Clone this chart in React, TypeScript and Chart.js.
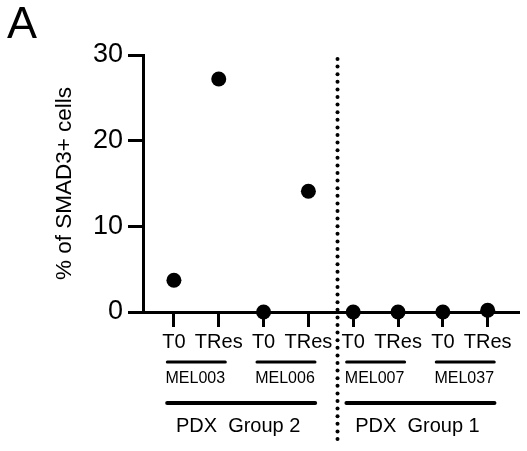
import React, { useEffect, useRef } from 'react';
import { Chart, registerables } from 'chart.js';

Chart.register(...registerables);

const FONT = '"Liberation Sans", Arial, Helvetica, sans-serif';

const tickLabels = ['T0', 'TRes', 'T0', 'TRes', 'T0', 'TRes', 'T0', 'TRes'];
const smad3Values = [3.7, 27.2, 0, 14.1, 0, 0, 0, 0.2];
const modelLabels = ['MEL003', 'MEL006', 'MEL007', 'MEL037'];
const groupLabels = ['PDX  Group 2', 'PDX  Group 1'];
const yTicks = [0, 10, 20, 30];
const yTitle = '% of SMAD3+ cells';
const panelLetter = 'A';
const dividerX = 4.65;

const annotationPlugin = {
  id: 'annotations',
  afterDraw(chart: any) {
    const { ctx, chartArea } = chart;
    const x = chart.scales.x;
    const base = chartArea.bottom;
    ctx.save();
    ctx.fillStyle = '#000';
    ctx.strokeStyle = '#000';

    // panel letter
    ctx.font = `45px ${FONT}`;
    ctx.textAlign = 'left';
    ctx.textBaseline = 'alphabetic';
    ctx.fillText(panelLetter, 7, 38);

    // y title
    ctx.save();
    ctx.translate(65, (chartArea.top + chartArea.bottom) / 2);
    ctx.rotate(-Math.PI / 2);
    ctx.font = `22.5px ${FONT}`;
    ctx.textAlign = 'center';
    ctx.textBaseline = 'middle';
    ctx.fillText(yTitle, 0, 0);
    ctx.restore();

    const line = (x1: number, x2: number, y: number, w: number) => {
      ctx.beginPath();
      ctx.lineWidth = w;
      ctx.lineCap = 'round';
      ctx.moveTo(x1, y);
      ctx.lineTo(x2, y);
      ctx.stroke();
    };

    // model underlines + labels
    ctx.textAlign = 'center';
    ctx.textBaseline = 'alphabetic';
    modelLabels.forEach((m, i) => {
      const a = x.getPixelForValue(2 * i + 1);
      const b = x.getPixelForValue(2 * i + 2);
      const c = (a + b) / 2;
      line(c - 29, c + 29, base + 50, 3);
      ctx.font = `16px ${FONT}`;
      ctx.fillText(m, c - 1, base + 71);
    });

    // group lines + labels
    groupLabels.forEach((g, i) => {
      const a = x.getPixelForValue(4 * i + 1);
      const b = x.getPixelForValue(4 * i + 4);
      const c = (a + b) / 2;
      line(c - 74, c + 74, base + 91, 4);
      ctx.font = `20px ${FONT}`;
      ctx.fillText(g, c - 3, base + 120);
    });

    // dotted divider
    const dx = x.getPixelForValue(dividerX);
    for (let y = chartArea.top + 4; y <= 446; y += 7.6) {
      ctx.beginPath();
      ctx.arc(dx, y, 2, 0, Math.PI * 2);
      ctx.fill();
    }
    ctx.restore();
  },
};

export default function App() {
  const ref = useRef<HTMLCanvasElement>(null);
  useEffect(() => {
    document.body.style.margin = '0';
    const canvas = ref.current!;
    const chart = new Chart(canvas, {
      type: 'scatter',
      data: {
        datasets: [
          {
            data: smad3Values.map((v, i) => ({ x: i + 1, y: v })),
            pointRadius: 7.5,
            pointHoverRadius: 7.5,
            backgroundColor: '#000',
            borderWidth: 0,
            clip: false as any,
          },
        ],
      },
      options: {
        animation: false,
        responsive: false,
        devicePixelRatio: 1,
        layout: { padding: { top: 55, right: 5, bottom: 0, left: 0 } },
        plugins: { legend: { display: false }, tooltip: { enabled: false } },
        scales: {
          x: {
            type: 'linear',
            min: 0.31,
            max: 8.71,
            afterBuildTicks: (s: any) => {
              s.ticks = tickLabels.map((_, i) => ({ value: i + 1 }));
            },
            afterFit: (s: any) => {
              s.height = 139;
            },
            ticks: {
              color: '#000',
              font: { size: 20, family: FONT },
              padding: 3,
              autoSkip: false,
              maxRotation: 0,
              callback: (v: any) => tickLabels[Math.round(Number(v)) - 1] ?? '',
            },
            grid: {
              drawOnChartArea: false,
              drawTicks: true,
              tickLength: 15,
              tickWidth: 3,
              tickColor: '#000',
            },
            border: { display: true, color: '#000', width: 3 },
          },
          y: {
            min: 0,
            max: 30,
            afterBuildTicks: (s: any) => {
              s.ticks = yTicks.map((v) => ({ value: v }));
            },
            afterFit: (s: any) => {
              s.width = 143;
            },
            ticks: {
              color: '#000',
              font: { size: 27, family: FONT },
              padding: 5,
            },
            grid: {
              drawOnChartArea: false,
              drawTicks: true,
              tickLength: 15,
              tickWidth: 3,
              tickColor: '#000',
            },
            border: { display: true, color: '#000', width: 3 },
          },
        },
      },
      plugins: [annotationPlugin],
    });
    return () => chart.destroy();
  }, []);
  return <canvas ref={ref} width={527} height={451} style={{ display: 'block' }} />;
}
